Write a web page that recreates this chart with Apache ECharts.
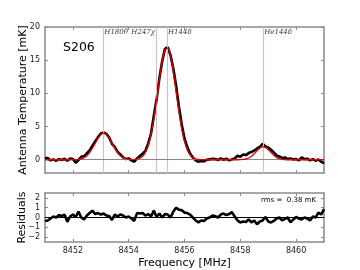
<!DOCTYPE html>
<html><head><meta charset="utf-8">
<script src="https://cdn.jsdelivr.net/npm/echarts@6/dist/echarts.min.js"></script>
<style>html,body{margin:0;padding:0;background:#fff}#c{width:360px;height:270px}</style>
</head><body><div id="c"></div>
<script>
var freqStart = 8451.0, freqStep = 0.1;
var spectrum = [0.2,0.25,-0.1,0.05,-0.15,0.1,-0.05,0.15,-0.15,0.2,
0.1,-0.45,-0.05,0.45,0.55,0.95,1.4,2.1,2.75,3.4,
3.95,4.1,3.9,3.35,2.4,1.95,1.2,0.8,0.35,0.1,
0.2,-0.1,-0.3,0.2,0.55,0.9,1.35,2.45,3.95,6.6,
9.1,12.3,14.85,16.7,16.95,15.7,13.7,11.1,8.0,5.3,
3.2,1.9,0.95,0.35,-0.1,-0.3,-0.2,-0.25,0.0,0.05,
0.15,0.1,-0.05,0.2,0.0,0.15,-0.1,0.05,0.2,0.6,
0.45,0.8,0.7,1.0,1.15,1.4,1.7,1.95,2.4,2.0,
1.85,1.5,1.1,0.65,0.5,0.25,0.35,0.1,0.2,0.05,
0.1,-0.1,0.35,0.1,0.15,-0.1,0.1,-0.15,0.05,-0.3,-0.55];
var fitModel = [0,0,0,0,0,0,0,0,0,0,
0.01,0.02,0.06,0.14,0.31,0.61,1.09,1.74,2.50,3.25,
3.80,4.00,3.80,3.25,2.50,1.74,1.09,0.61,0.31,0.14,
0.07,0.03,0.03,0.09,0.22,0.52,1.11,2.15,3.80,6.13,
9.01,12.09,14.80,16.52,16.83,15.63,13.25,10.25,7.23,4.65,
2.73,1.46,0.72,0.32,0.13,0.05,0.02,0,0,0,
0,0,0,0,0,0,0,0,0,0,
0.01,0.04,0.11,0.26,0.53,0.91,1.36,1.75,1.95,1.86,
1.53,1.09,0.67,0.35,0.16,0.06,0.02,0,0,0,
0,0,0,0,0,0,0,0,0,0,0];
var residuals = [-0.35,-0.3,-0.1,0.1,0.0,0.25,0.15,0.3,-0.45,0.1,
0.3,0.05,0.6,0.0,-0.2,0.2,0.45,0.7,0.35,0.45,
0.3,0.4,0.2,0.15,-0.25,0.3,0.1,0.3,0.2,0.0,
0.1,-0.1,-0.35,0.45,0.4,0.45,0.2,0.35,0.1,0.7,
0.05,0.4,0.0,0.35,0.3,0.0,0.6,1.0,0.8,0.75,
0.5,0.45,0.3,0.0,-0.3,-0.5,-0.3,-0.35,-0.1,0.0,
0.2,0.15,0.0,0.3,0.4,0.25,0.35,0.55,0.1,-0.3,
-0.5,-0.4,-0.45,-0.2,-0.5,-0.3,-0.7,-0.4,-0.3,0.05,
-0.4,-0.5,-0.35,-0.1,0.0,-0.3,-0.15,0.0,-0.5,-0.2,
0.05,-0.1,-0.2,0.0,-0.1,-0.3,0.1,0.0,0.5,0.3,0.85];
var lineNames = ['H180\u03b8','H247\u03c7','H144\u03b4','He144\u03b4'];
var lineFreqs = [8453.09, 8454.98, 8455.37, 8458.82];
var lineLabelSide = ['right','left','right','right'];
var xTicks = [8452, 8454, 8456, 8458, 8460];
var yTicksTop = [0, 5, 10, 15, 20];
var yTicksRes = [-2, -1, 0, 1, 2];
var sourceName = 'S206';
var rmsText = 'rms =  0.38 mK';

function pairs(arr){ return arr.map(function(v,i){ return [+(freqStart + i*freqStep).toFixed(2), v]; }); }

var frame = '#8a8a8a';
var font = 'DejaVu Sans';
function xAx(grid, pos, labels, extra){
  var a = {type:'value', gridIndex:grid, position:pos, min:8451, max:8461,
    axisLine:{show:true, onZero:false, lineStyle:{color:frame, width:1.5}},
    axisTick:{show:true, inside:true, length:3, customValues:xTicks, lineStyle:{color:frame}},
    axisLabel:{show:labels, customValues:xTicks, color:'#222', fontSize:8, fontFamily:font, margin:5, formatter:function(v){return String(v);}},
    splitLine:{show:false}};
  return Object.assign(a, extra||{});
}
function yAx(grid, pos, mn, mx, ticks, labels, extra){
  var a = {type:'value', gridIndex:grid, position:pos, min:mn, max:mx,
    axisLine:{show:true, onZero:false, lineStyle:{color:frame, width:1.5}},
    axisTick:{show:true, inside:true, length:3, customValues:ticks, lineStyle:{color:frame}},
    axisLabel:{show:labels, customValues:ticks, color:'#222', fontSize:8, fontFamily:font, margin:5,
      formatter:function(v){ return v < 0 ? '\u2212' + Math.abs(v) : String(v); }},
    splitLine:{show:false}};
  return Object.assign(a, extra||{});
}

var chart = echarts.init(document.getElementById('c'), null, {renderer:'canvas'});
chart.setOption({
  animation:false,
  title:[{text:sourceName, left:58, top:36, textStyle:{fontSize:12.5, fontWeight:'normal', fontFamily:font, color:'#000'}}],
  graphic:[{type:'text', right:44, top:197, style:{text:rmsText, fontSize:7, fontFamily:font, fill:'#000', textAlign:'right'}}],
  grid:[{left:45, right:36, top:27, height:146},{left:45, right:36, top:193, height:50}],
  xAxis:[xAx(0,'bottom',false), xAx(0,'top',false), 
         xAx(1,'bottom',true,{name:'Frequency [MHz]', nameLocation:'middle', nameGap:16, nameMoveOverlap:false, nameTextStyle:{fontSize:11, fontFamily:font, color:'#000'}}),
         xAx(1,'top',false)],
  yAxis:[yAx(0,'left',-2,20,yTicksTop,true,{name:'Antenna Temperature [mK]', nameLocation:'middle', nameGap:16, nameMoveOverlap:false, nameTextStyle:{fontSize:11, fontFamily:font, color:'#000'}}),
         yAx(0,'right',-2,20,yTicksTop,false),
         yAx(1,'left',-2.5,2.5,yTicksRes,true,{name:'Residuals', nameLocation:'middle', nameGap:17, nameMoveOverlap:false, nameTextStyle:{fontSize:11, fontFamily:font, color:'#000'}}),
         yAx(1,'right',-2.5,2.5,yTicksRes,false)],
  series:[
    {type:'line', xAxisIndex:0, yAxisIndex:0, data:[], silent:true, z:1,
      markLine:{silent:true, symbol:'none', label:{show:false},
        data: lineFreqs.map(function(f){return {xAxis:f};}).concat([{yAxis:0, lineStyle:{color:'#888', width:1.2}}]),
        lineStyle:{color:'#cfc4c4', width:1.2, type:'solid'}}},
    {type:'scatter', xAxisIndex:0, yAxisIndex:0, symbolSize:0, z:3, silent:true,
      data: lineFreqs.map(function(f,i){return {value:[f,19.2], name:lineNames[i], label:{position:lineLabelSide[i]}};}),
      label:{show:true, position:'right', distance:1, formatter:function(p){return p.name;},
        fontFamily:'DejaVu Serif', fontStyle:'italic', fontSize:7, color:'#000'}},
    {type:'line', xAxisIndex:0, yAxisIndex:0, data:pairs(spectrum), showSymbol:false, z:4,
      lineStyle:{color:'#000', width:2.6}},
    {type:'line', xAxisIndex:0, yAxisIndex:0, data:pairs(fitModel), showSymbol:false, smooth:0.3, z:5,
      lineStyle:{color:'#e00000', width:1.3}},
    {type:'line', xAxisIndex:2, yAxisIndex:2, data:pairs(residuals), showSymbol:false, z:4,
      lineStyle:{color:'#000', width:2.6},
      markLine:{silent:true, symbol:'none', label:{show:false}, data:[{yAxis:0}], lineStyle:{color:'#000', width:1, type:'solid'}}}
  ]
});
</script></body></html>
